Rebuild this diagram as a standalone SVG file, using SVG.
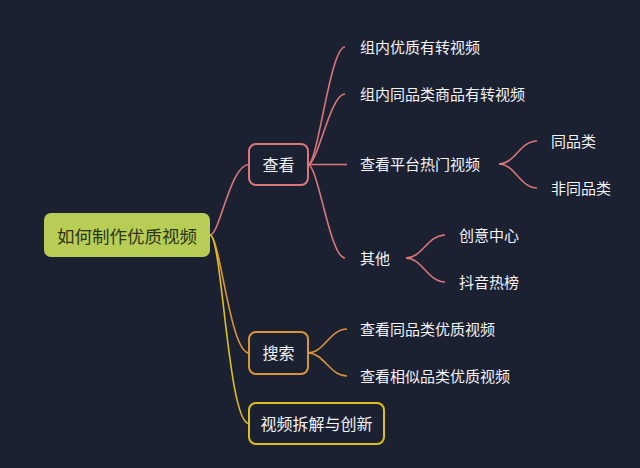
<svg xmlns="http://www.w3.org/2000/svg" width="640" height="468" viewBox="0 0 640 468">
<style>
text{font-family:"Noto Sans CJK SC","Noto Sans",sans-serif;}
.t{fill:#f2f3f7;font-size:15px;}
.b{fill:#f2f3f7;font-size:16px;text-anchor:middle;}
.c{fill:none;stroke-width:1.6;}
.pk{stroke:#d9777b;}
.or{stroke:#d89539;}
.ye{stroke:#dcbf23;}
.box{fill:#1c2131;stroke-width:2;}
</style>
<rect width="640" height="468" fill="#1c2131"/>
<g id="connectors">
<path class="c pk" d="M210 235 C220 235 230 164.5 249 164.5"/>
<path class="c or" d="M210 235 C220 235 230 353 249 353"/>
<path class="c ye" d="M210 235 C222 235 228 423.5 249 423.5"/>
<path class="c pk" d="M308 164.5 C318 164.5 330 47 345 47"/>
<path class="c pk" d="M308 164.5 C318 164.5 330 94 345 94"/>
<path class="c pk" d="M308 164.5 L347 164.5"/>
<path class="c pk" d="M308 164.5 C318 164.5 330 258 345 258"/>
<path class="c pk" d="M499 164 C515 164 520 141 537 141"/>
<path class="c pk" d="M499 164 C515 164 520 188 537 188"/>
<path class="c pk" d="M406 258 C422 258 428 235 445 235"/>
<path class="c pk" d="M406 258 C422 258 428 282 445 282"/>
<path class="c or" d="M308 353 C324 353 330 329 347 329"/>
<path class="c or" d="M308 353 C324 353 330 376 347 376"/>
</g>
<g id="root">
<rect x="44" y="213" width="166" height="44" rx="7" fill="#b8cd55"/>
<text x="127" y="242.6" font-size="17.5" fill="#2d3618" text-anchor="middle">如何制作优质视频</text>
</g>
<g id="chakan">
<rect class="box" x="249" y="144" width="59" height="41" rx="7" stroke="#d9777b"/>
<text class="b" x="278.5" y="170.5">查看</text>
</g>
<g id="sousuo">
<rect class="box" x="249" y="332" width="59" height="42" rx="7" stroke="#d89539"/>
<text class="b" x="278.5" y="359">搜索</text>
</g>
<g id="chaijie">
<rect class="box" x="249" y="403" width="135" height="41" rx="7" stroke="#dcbf23"/>
<text class="b" x="316.5" y="429.5" font-size="15">视频拆解与创新</text>
</g>
<g id="n1"><text class="t" x="360" y="52.7">组内优质有转视频</text></g>
<g id="n2"><text class="t" x="360" y="99.7">组内同品类商品有转视频</text></g>
<g id="n3"><text class="t" x="360" y="169.7">查看平台热门视频</text></g>
<g id="n31"><text class="t" x="551" y="147.2">同品类</text></g>
<g id="n32"><text class="t" x="551" y="193.7">非同品类</text></g>
<g id="n4"><text class="t" x="360" y="263.7">其他</text></g>
<g id="n41"><text class="t" x="459" y="240.7">创意中心</text></g>
<g id="n42"><text class="t" x="459" y="287.7">抖音热榜</text></g>
<g id="s1"><text class="t" x="360" y="334.7">查看同品类优质视频</text></g>
<g id="s2"><text class="t" x="360" y="381.7">查看相似品类优质视频</text></g>
</svg>
